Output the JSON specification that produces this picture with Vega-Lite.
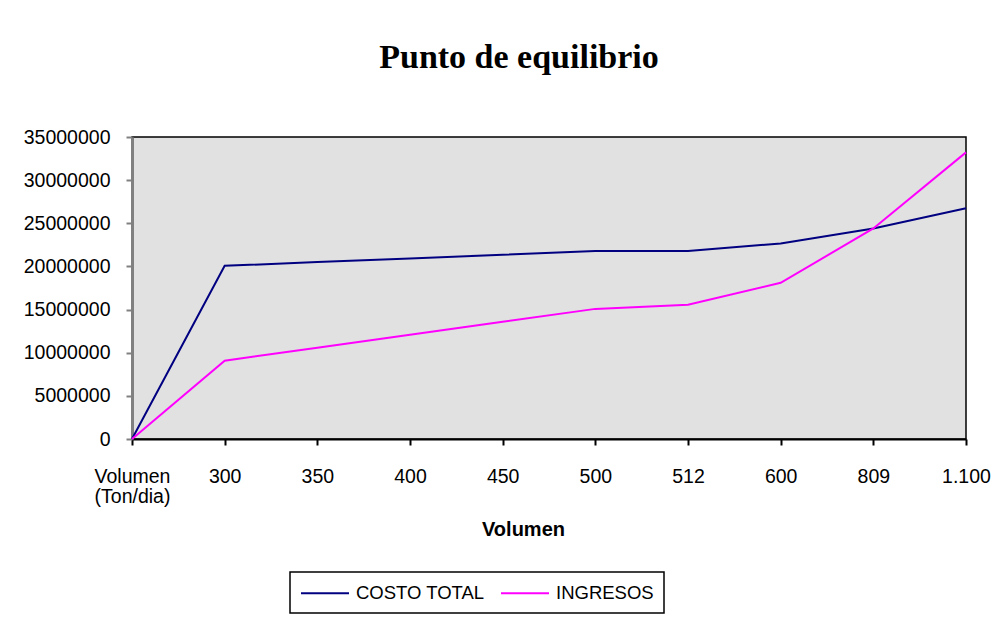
{
  "$schema": "https://vega.github.io/schema/vega-lite/v6.json",
  "width": 834,
  "height": 302,
  "autosize": {"type": "none"},
  "padding": {"left": 132, "top": 137, "right": 40, "bottom": 181},
  "background": "white",
  "title": {
    "text": "Punto de equilibrio",
    "font": "Liberation Serif",
    "fontSize": 34,
    "fontWeight": "bold",
    "color": "black",
    "anchor": "middle",
    "frame": "group",
    "dx": -30,
    "offset": 52
  },
  "data": {
    "values": [
      {"vol": "Volumen|(Ton/dia)", "serie": "COSTO TOTAL", "valor": 0},
      {"vol": "300", "serie": "COSTO TOTAL", "valor": 20070000},
      {"vol": "350", "serie": "COSTO TOTAL", "valor": 20500000},
      {"vol": "400", "serie": "COSTO TOTAL", "valor": 20930000},
      {"vol": "450", "serie": "COSTO TOTAL", "valor": 21350000},
      {"vol": "500", "serie": "COSTO TOTAL", "valor": 21780000},
      {"vol": "512", "serie": "COSTO TOTAL", "valor": 21800000},
      {"vol": "600", "serie": "COSTO TOTAL", "valor": 22670000},
      {"vol": "809", "serie": "COSTO TOTAL", "valor": 24400000},
      {"vol": "1.100", "serie": "COSTO TOTAL", "valor": 26750000},
      {"vol": "Volumen|(Ton/dia)", "serie": "INGRESOS", "valor": 0},
      {"vol": "300", "serie": "INGRESOS", "valor": 9080000},
      {"vol": "350", "serie": "INGRESOS", "valor": 10580000},
      {"vol": "400", "serie": "INGRESOS", "valor": 12080000},
      {"vol": "450", "serie": "INGRESOS", "valor": 13580000},
      {"vol": "500", "serie": "INGRESOS", "valor": 15080000},
      {"vol": "512", "serie": "INGRESOS", "valor": 15560000},
      {"vol": "600", "serie": "INGRESOS", "valor": 18100000},
      {"vol": "809", "serie": "INGRESOS", "valor": 24400000},
      {"vol": "1.100", "serie": "INGRESOS", "valor": 33220000}
    ]
  },
  "mark": {"type": "line", "strokeWidth": 2},
  "encoding": {
    "x": {
      "field": "vol",
      "type": "ordinal",
      "sort": null,
      "scale": {"type": "point", "padding": 0},
      "axis": {
        "title": "Volumen",
        "titleFont": "Liberation Sans",
        "titleFontSize": 20,
        "titleFontWeight": "bold",
        "titleColor": "black",
        "titleX": 391,
        "titleY": 90,
        "titleAlign": "center",
        "titleBaseline": "middle",
        "labelExpr": "split(datum.label, '|')",
        "labelAngle": 0,
        "labelFont": "Liberation Sans",
        "labelFontSize": 19.5,
        "labelColor": "black",
        "labelPadding": 22,
        "labelLineHeight": 20,
        "domainColor": "black",
        "domainWidth": 2,
        "tickColor": "black",
        "tickWidth": 2,
        "tickSize": 6,
        "grid": false
      }
    },
    "y": {
      "field": "valor",
      "type": "quantitative",
      "scale": {"domain": [0, 35000000], "nice": false},
      "axis": {
        "title": null,
        "values": [0, 5000000, 10000000, 15000000, 20000000, 25000000, 30000000, 35000000],
        "format": "d",
        "labelFont": "Liberation Sans",
        "labelFontSize": 19.5,
        "labelColor": "black",
        "labelPadding": 16,
        "domainColor": "#808080",
        "domainWidth": 3,
        "tickColor": "#808080",
        "tickWidth": 2,
        "tickSize": 6,
        "grid": false
      }
    },
    "color": {
      "field": "serie",
      "type": "nominal",
      "scale": {"domain": ["COSTO TOTAL", "INGRESOS"], "range": ["#000080", "#ff00ff"]},
      "legend": {
        "title": null,
        "orient": "none",
        "legendX": 158,
        "legendY": 435,
        "direction": "horizontal",
        "strokeColor": "black",
        "fillColor": "white",
        "padding": 10,
        "symbolType": "M-1,0H3.8",
        "symbolSize": 400,
        "symbolStrokeWidth": 2,
        "labelFont": "Liberation Sans",
        "labelFontSize": 18.5,
        "labelColor": "black",
        "labelOffset": 34,
        "columnPadding": 12
      }
    }
  },
  "config": {
    "view": {"fill": "#e1e1e1", "stroke": "black", "strokeWidth": 1.5},
    "legend": {"strokeWidth": 1.5}
  }
}
